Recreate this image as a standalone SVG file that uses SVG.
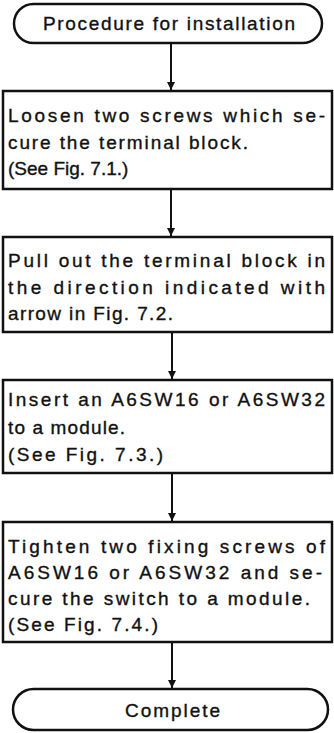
<svg xmlns="http://www.w3.org/2000/svg" width="334" height="733" viewBox="0 0 334 733">
<defs>
<style>
.bg{fill:#fff}
.node{fill:#fff;stroke:#111;stroke-width:2.5}
.t{font-family:"Liberation Sans",Arial,sans-serif;font-size:19px;fill:#111;stroke:#111;stroke-width:0.35}
.edge{stroke:#111;stroke-width:2;fill:none}
</style>
<marker id="ah" viewBox="0 0 8 12" refX="8" refY="6" markerWidth="8" markerHeight="12" markerUnits="userSpaceOnUse" orient="auto">
<path d="M0,2 L8,6 L0,10 Z" fill="#111"/>
</marker>
</defs>
<rect class="bg" x="0" y="0" width="334" height="733"/>
<g id="connectors">
<line class="edge" x1="171" y1="43" x2="171" y2="90" marker-end="url(#ah)"/>
<line class="edge" x1="171" y1="189" x2="171" y2="236" marker-end="url(#ah)"/>
<line class="edge" x1="172" y1="332" x2="172" y2="379" marker-end="url(#ah)"/>
<line class="edge" x1="172" y1="473" x2="172" y2="521" marker-end="url(#ah)"/>
<line class="edge" x1="172" y1="642" x2="172" y2="688" marker-end="url(#ah)"/>
</g>
<g id="start">
<rect class="node" x="14" y="4" width="308" height="39" rx="19.5"/>
<text class="t" x="43" y="30" textLength="252" lengthAdjust="spacing">Procedure for installation</text>
</g>
<g id="step1">
<rect class="node" x="3" y="91" width="329" height="98"/>
<text class="t" x="8" y="122" textLength="317" lengthAdjust="spacing">Loosen two screws which se-</text>
<text class="t" x="8" y="148.5" textLength="240" lengthAdjust="spacing">cure the terminal block.</text>
<text class="t" x="8" y="175">(See Fig. 7.1.)</text>
</g>
<g id="step2">
<rect class="node" x="3" y="237" width="329" height="95"/>
<text class="t" x="8" y="267" textLength="317" lengthAdjust="spacing">Pull out the terminal block in</text>
<text class="t" x="8" y="293.5" textLength="317" lengthAdjust="spacing">the direction indicated with</text>
<text class="t" x="8" y="320" textLength="165" lengthAdjust="spacing">arrow in Fig. 7.2.</text>
</g>
<g id="step3">
<rect class="node" x="3" y="380" width="329" height="93"/>
<text class="t" x="8" y="406" textLength="317" lengthAdjust="spacing">Insert an A6SW16 or A6SW32</text>
<text class="t" x="8" y="433.5" textLength="117" lengthAdjust="spacing">to a module.</text>
<text class="t" x="8" y="461" textLength="155" lengthAdjust="spacing">(See Fig. 7.3.)</text>
</g>
<g id="step4">
<rect class="node" x="3" y="522" width="329" height="120"/>
<text class="t" x="8" y="553" textLength="317" lengthAdjust="spacing">Tighten two fixing screws of</text>
<text class="t" x="8" y="579" textLength="314" lengthAdjust="spacing">A6SW16 or A6SW32 and se-</text>
<text class="t" x="8" y="605" textLength="302" lengthAdjust="spacing">cure the switch to a module.</text>
<text class="t" x="8" y="631" textLength="150" lengthAdjust="spacing">(See Fig. 7.4.)</text>
</g>
<g id="end">
<rect class="node" x="13" y="689" width="315" height="41" rx="20.5"/>
<text class="t" x="125" y="717" textLength="95" lengthAdjust="spacing">Complete</text>
</g>
</svg>
